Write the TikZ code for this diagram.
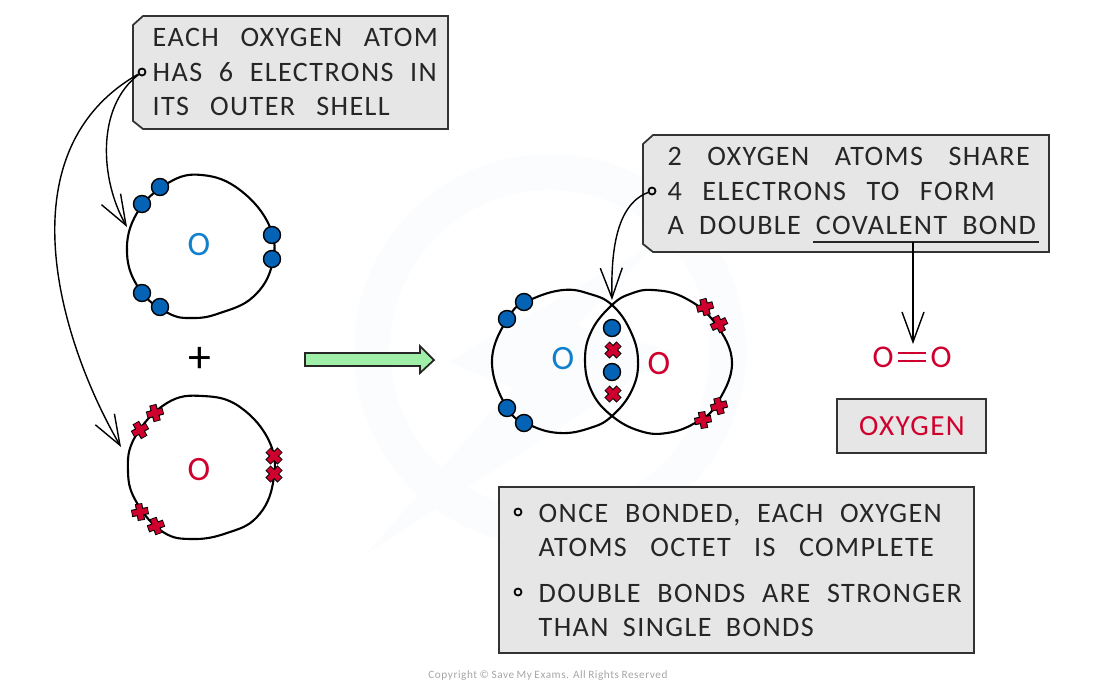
\documentclass[tikz,border=0pt]{standalone}
\usepackage{fontspec}
\setmainfont[LetterSpace=5]{Carlito}
\usetikzlibrary{arrows.meta}
\definecolor{oxblue}{HTML}{0563B5}
\definecolor{labelblue}{HTML}{1080CC}
\definecolor{oxred}{HTML}{D0002E}
\definecolor{boxgrey}{HTML}{E6E6E6}
\definecolor{bandgreen}{HTML}{A0EFA8}
\definecolor{markblue}{HTML}{FAFCFE}
\newcommand{\spread}[2]{\makebox[#1cm][s]{#2}}
\tikzset{
    notebox/.style={draw=black!80,fill=boxgrey,line width=0.5pt},
    plainbox/.style={rectangle,draw=black!80,fill=boxgrey,inner sep=0pt},
    line/.style={anchor=base west,inner sep=0pt,font=\fontsize{8}{8}\selectfont,text=black!85},
    atomlabel/.style={inner sep=0pt,font=\fontsize{9.7}{10}\selectfont},
    shell/.style={draw=black,line width=0.6pt},
    dot/.style={circle,draw=black,fill=boxgrey,line width=0.5pt,minimum size=0.07cm,inner sep=0pt},
    blueel/.style={circle,draw=black,fill=oxblue,line width=0.4pt,minimum size=0.17cm,inner sep=0pt},
    pointer/.style={draw=black,line width=0.4pt,-{Straight Barb[length=3mm,width=2.2mm]}},
    xmark/.pic={
        \draw[black,line width=2.1pt] (-8.5,0) -- (8.5,0) (0,-8.5) -- (0,8.5);
        \draw[oxred,line width=1.5pt] (-7.7,0) -- (7.7,0) (0,-7.7) -- (0,7.7);
    }
}
\begin{document}
\begin{tikzpicture}[x=0.01cm,y=-0.01cm]
    \useasboundingbox (0,0) rectangle (1100,696);

    % faint logo behind everything
    \draw[markblue,line width=0.36cm] (550,350) circle[radius=178];
    \fill[markblue] (365,555) -- (512,388) -- (448,362) -- (660,240) -- (577,325) -- (675,352) -- cycle;

    % first atom
    \draw[shell] plot[smooth cycle,tension=.7] coordinates {(202,175) (240,190) (270,227) (272,265)
        (253,297) (220,313) (193,318) (168,313) (140,290) (127,253) (137,213) (168,183)};
    \node[atomlabel,text=labelblue] (topO) at (199,245) {O};
    \node[blueel] (b1) at (160,187) {};
    \node[blueel] (b2) at (142,204) {};
    \node[blueel] (b3) at (272,235) {};
    \node[blueel] (b4) at (272,259) {};
    \node[blueel] (b5) at (142,293) {};
    \node[blueel] (b6) at (160,307) {};

    \node[inner sep=0pt,font=\fontsize{13}{13}\selectfont] (plus) at (200,360) {+};

    % second atom
    \draw[shell] plot[smooth cycle,tension=.7] coordinates {(203,396) (240,407) (270,443) (273,483)
        (257,517) (227,533) (193,539) (163,532) (137,503) (128,472) (135,437) (167,403)};
    \node[atomlabel,text=oxred] (lowO) at (199,470) {O};
    \pic[rotate=15] at (155,413) {xmark};
    \pic[rotate=30] at (140,430) {xmark};
    \pic[rotate=45] at (274,456) {xmark};
    \pic[rotate=45] at (274,474) {xmark};
    \pic[rotate=10] at (140,512) {xmark};
    \pic[rotate=20] at (156,526) {xmark};

    % reaction arrow
    \draw[black!85,fill=bandgreen,line width=0.5pt] (305,353) -- (420,353) -- (420,346) -- (434,360)
        -- (420,373) -- (420,366) -- (305,366) -- cycle;

    % bonded molecule
    \draw[shell] plot[smooth cycle,tension=.7] coordinates {(563,290) (530,300) (510,315) (492,360)
        (507,408) (530,425) (560,433) (590,428) (612,416) (632,390) (638,360) (630,330) (612,305) (590,294)};
    \draw[shell] plot[smooth cycle,tension=.7] coordinates {(653,290) (685,298) (715,323) (732,363)
        (716,405) (695,423) (667,433) (640,431) (612,416) (592,392) (585,360) (592,330) (612,305) (630,294)};
    \node[atomlabel,text=labelblue] (midOl) at (563,359) {O};
    \node[atomlabel,text=oxred] (midOr) at (659,364) {O};
    \node[blueel] (m1) at (524,302) {};
    \node[blueel] (m2) at (507,319) {};
    \node[blueel] (m3) at (507,408) {};
    \node[blueel] (m4) at (524,423) {};
    \node[blueel] (m5) at (612,328) {};
    \node[blueel] (m6) at (612,372) {};
    \pic[rotate=45] at (613,350) {xmark};
    \pic[rotate=45] at (613,394) {xmark};
    \pic[rotate=15] at (705,307) {xmark};
    \pic[rotate=25] at (719,324) {xmark};
    \pic[rotate=15] at (719,406) {xmark};
    \pic[rotate=10] at (703,420) {xmark};

    % first note
    \draw[notebox] (143,16) -- (448,16) -- (448,129) -- (143,129) -- (133,121) -- (133,25) -- cycle;
    \node[line] (s1) at (152,46) {\spread{2.85}{EACH OXYGEN ATOM}};
    \node[line] (s2) at (152,81) {\spread{2.84}{HAS 6 ELECTRONS IN}};
    \node[line] (s3) at (152,115) {\spread{2.37}{ITS OUTER SHELL}};
    \node[dot] (shelldot) at (142,72) {};
    \coordinate (tiptop) at (127,227);
    \coordinate (tiplow) at (121,447);
    \draw[pointer] (shelldot) .. controls (96,107) and (100,180) .. (tiptop);
    \draw[pointer] (shelldot) .. controls (2,152) and (60,342) .. (tiplow);

    % second note
    \draw[notebox] (653,135) -- (1049,135) -- (1049,252) -- (653,252) -- (643,244) -- (643,144) -- cycle;
    \node[line] (h1) at (667,165) {\spread{3.62}{2 OXYGEN ATOMS SHARE}};
    \node[line] (h2) at (667,200) {\spread{3.27}{4 ELECTRONS TO FORM}};
    \node[line] (h3) at (667,234) {\spread{3.68}{A DOUBLE COVALENT BOND}};
    \node[dot] (sharedot) at (652,191) {};
    \coordinate (tiplens) at (612,300);
    \draw[pointer] (sharedot) .. controls (615,205) and (611,255) .. (tiplens);

    \coordinate (ulstart) at (813,242);
    \coordinate (ulend) at (1039,242);
    \coordinate (ulfoot) at (913,242);
    \coordinate (tipform) at (913,344);
    \draw[black!85,line width=0.6pt] (ulstart) -- (ulend);
    \draw[pointer] (ulfoot) -- (tipform);

    % formula and name
    \node[atomlabel,text=oxred,font=\fontsize{9}{9}\selectfont] (formO1) at (883,357) {O};
    \node[atomlabel,text=oxred,font=\fontsize{9}{9}\selectfont] (formO2) at (941,357) {O};
    \draw[oxred,line width=0.45pt,double=white,double distance=0.065cm,shorten <=1pt,shorten >=1pt] (formO1) -- (formO2);
    \node[plainbox,line width=0.7pt,minimum width=1.49cm,minimum height=0.54cm] (namebox) at (911.5,426) {};
    \node[line,anchor=base,text=oxred,font=\fontsize{8.3}{8}\selectfont] (nametext) at (912,435) {OXYGEN};

    % third note
    \node[plainbox,line width=0.5pt,minimum width=4.75cm,minimum height=1.66cm] (bondbox) at (736.5,570) {};
    \node[dot] (d1) at (518,512) {};
    \node[dot] (d2) at (518,592) {};
    \node[line] (t1) at (538,522) {\spread{4.03}{ONCE BONDED, EACH OXYGEN}};
    \node[line] (t2) at (538,556) {\spread{3.95}{ATOMS OCTET IS COMPLETE}};
    \node[line] (t3) at (538,602) {\spread{4.23}{DOUBLE BONDS ARE STRONGER}};
    \node[line] (t4) at (538,636) {\spread{2.75}{THAN SINGLE BONDS}};

    \node[inner sep=0pt,text=black!35,font=\fontsize{3.2}{4}\selectfont] (copy) at (548,676) {\spread{2.39}{Copyright © Save My Exams. All Rights Reserved}};
\end{tikzpicture}
\end{document}
